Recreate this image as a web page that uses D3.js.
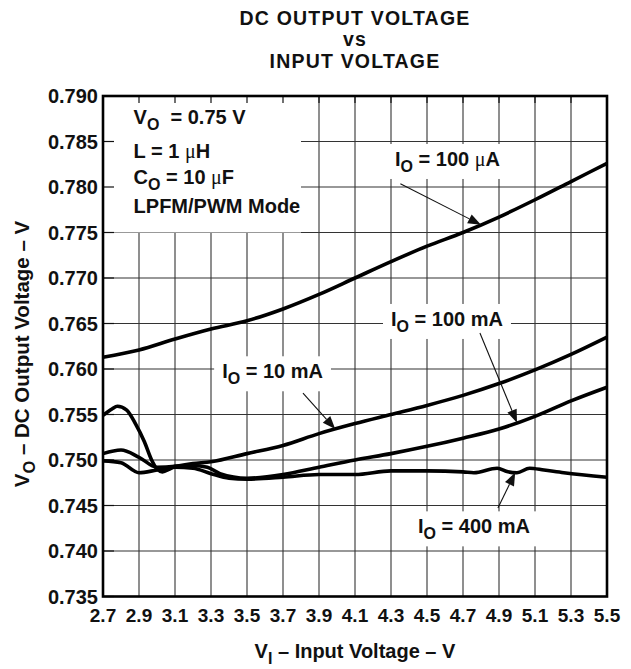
<!DOCTYPE html>
<html>
<head>
<meta charset="utf-8">
<script src="https://cdn.jsdelivr.net/npm/d3@7"></script>
<style>
  body { margin: 0; background: #fff; }
  svg text { font-family: "Liberation Sans", Arial, sans-serif; font-weight: bold; fill: #111; }
</style>
</head>
<body>
<svg id="chart" width="631" height="669"></svg>
<script>
// axis ticks
const xTicks = [2.7, 2.9, 3.1, 3.3, 3.5, 3.7, 3.9, 4.1, 4.3, 4.5, 4.7, 4.9, 5.1, 5.3, 5.5];
const yTicks = [0.735, 0.740, 0.745, 0.750, 0.755, 0.760, 0.765, 0.770, 0.775, 0.780, 0.785, 0.790];

// [V_I, V_O]
const io100uA = [[2.7, 0.7613], [2.9, 0.7621], [3.1, 0.7633], [3.3, 0.7644], [3.5, 0.7653],
  [3.7, 0.7666], [3.9, 0.7682], [4.1, 0.7700], [4.3, 0.7718], [4.5, 0.7735], [4.7, 0.7750],
  [4.9, 0.7767], [5.1, 0.7786], [5.3, 0.7806], [5.5, 0.7826]];
const io10mA = [[2.7, 0.7507], [2.8, 0.7511], [2.9, 0.7503], [3.0, 0.7492], [3.1, 0.7493],
  [3.2, 0.7496], [3.3, 0.7498], [3.5, 0.7507], [3.7, 0.7516], [3.9, 0.7529], [4.1, 0.7540],
  [4.3, 0.7550], [4.5, 0.7560], [4.7, 0.7571], [4.9, 0.7584], [5.1, 0.7599], [5.3, 0.7616], [5.5, 0.7635]];
const io100mA = [[2.7, 0.7549], [2.75, 0.7556], [2.78, 0.7559], [2.83, 0.7555], [2.88, 0.7540],
  [2.93, 0.7520], [2.97, 0.7500], [3.0, 0.7490], [3.03, 0.7487], [3.07, 0.7490], [3.1, 0.7493],
  [3.2, 0.7494], [3.28, 0.7492], [3.35, 0.7485], [3.5, 0.7480], [3.7, 0.7484], [3.9, 0.7492],
  [4.1, 0.7500], [4.3, 0.7507], [4.5, 0.7515], [4.7, 0.7524], [4.9, 0.7534], [5.1, 0.7548],
  [5.3, 0.7565], [5.5, 0.7580]];
const io400mA = [[2.7, 0.7499], [2.8, 0.7497], [2.9, 0.7486], [3.0, 0.7489], [3.1, 0.7492],
  [3.2, 0.7491], [3.3, 0.7485], [3.4, 0.7480], [3.5, 0.7479], [3.7, 0.7481], [3.9, 0.7484],
  [4.1, 0.7484], [4.3, 0.7488], [4.5, 0.7488], [4.7, 0.7487], [4.76, 0.7486], [4.89, 0.7491],
  [4.95, 0.7487], [5.0, 0.7486], [5.07, 0.7491], [5.15, 0.7489], [5.26, 0.7486], [5.5, 0.7481]];

const series = [io100uA, io10mA, io100mA, io400mA];

const svg = d3.select('#chart');
const x = d3.scaleLinear().domain([2.7, 5.5]).range([103, 607]);
const y = d3.scaleLinear().domain([0.735, 0.790]).range([596.5, 96]);
const [x0, x1] = x.range();
const [y1, y0] = y.range();

// rich text: parts are [text, kind] with kind 'sub' or 'mu'
function rich(sel, parts, size) {
  let lowered = false;
  for (const [t, kind] of parts) {
    const ts = sel.append('tspan').text(t);
    if (kind === 'sub') {
      ts.attr('font-size', size * 0.8).attr('dy', size * 0.3);
      lowered = true;
    } else {
      if (lowered) { ts.attr('dy', -size * 0.3); lowered = false; }
      if (kind === 'mu') ts.attr('font-family', '"Liberation Serif", serif').attr('font-weight', 'normal');
    }
  }
  return sel;
}

// grid
const gGrid = svg.append('g').attr('stroke', '#333').attr('stroke-width', 1.1);
gGrid.selectAll('line.v').data(xTicks.slice(1, -1)).join('line')
  .attr('x1', d => x(d)).attr('x2', d => x(d)).attr('y1', y0).attr('y2', y1);
gGrid.selectAll('line.h').data(yTicks.slice(1, -1)).join('line')
  .attr('x1', x0).attr('x2', x1).attr('y1', d => y(d)).attr('y2', d => y(d));

// white panel with the test conditions, grid hidden under it
svg.append('rect').attr('x', x(2.7)).attr('y', y(0.790))
  .attr('width', x(3.8) - x(2.7)).attr('height', y(0.775) - y(0.790)).attr('fill', '#fff');

// short inward ticks on the top and left frame
const gTicks = svg.append('g').attr('stroke', '#111').attr('stroke-width', 1.2);
gTicks.selectAll('line.t').data(xTicks).join('line')
  .attr('x1', d => x(d)).attr('x2', d => x(d)).attr('y1', y0).attr('y2', y0 + 7);
gTicks.selectAll('line.l').data(yTicks).join('line')
  .attr('x1', x0).attr('x2', x0 + 11).attr('y1', d => y(d)).attr('y2', d => y(d));

const conditions = [
  [['V'], ['O', 'sub'], ['\u00a0\u00a0= 0.75 V']],
  [['L = 1 '], ['μ', 'mu'], ['H']],
  [['C'], ['O', 'sub'], [' = 10 '], ['μ', 'mu'], ['F']],
  [['LPFM/PWM Mode']]
];
const condBase = [0.78689, 0.78315, 0.78030, 0.77711];
conditions.forEach((parts, i) => {
  rich(svg.append('text').attr('x', x(2.87)).attr('y', y(condBase[i])).attr('font-size', 20), parts, 20);
});

// labels for each curve
const notes = [
  { parts: [['I'], ['O', 'sub'], [' = 100 '], ['μ', 'mu'], ['A']], at: [4.614, 0.78231], from: [4.352, 0.78036], tipV: 4.80, s: io100uA },
  { parts: [['I'], ['O', 'sub'], [' = 10 mA']], at: [3.642, 0.75898], from: [3.811, 0.75736], tipV: 3.99, s: io10mA },
  { parts: [['I'], ['O', 'sub'], [' = 100 mA']], at: [4.611, 0.76473], from: [4.794, 0.76396], tipV: 5.0, s: io100mA },
  { parts: [['I'], ['O', 'sub'], [' = 400 mA']], at: [4.761, 0.74194], from: [4.894, 0.74473], tipV: 4.99, s: io400mA }
];
const gNotes = svg.append('g');
for (const n of notes) {
  const t = rich(gNotes.append('text').attr('x', x(n.at[0])).attr('y', y(n.at[1]))
    .attr('text-anchor', 'middle').attr('font-size', 20), n.parts, 20);
  const b = t.node().getBBox();
  gNotes.insert('rect', 'text').attr('x', b.x - 8).attr('y', b.y - 4)
    .attr('width', b.width + 16).attr('height', b.height + 8).attr('fill', '#fff');
}

// curves
const line = d3.line().x(d => x(d[0])).y(d => y(d[1])).curve(d3.curveMonotoneX);
svg.append('g').selectAll('path').data(series).join('path')
  .attr('d', line).attr('fill', 'none').attr('stroke', '#000')
  .attr('stroke-width', 3.6).attr('stroke-linejoin', 'round');

// frame
svg.append('rect').attr('x', x0).attr('y', y0).attr('width', x1 - x0).attr('height', y1 - y0)
  .attr('fill', 'none').attr('stroke', '#000').attr('stroke-width', 2.6);

// arrows from labels to curves
function valueAt(s, v) {
  const i = Math.max(1, d3.bisector(d => d[0]).left(s, v));
  const a = s[i - 1], b = s[i];
  return a[1] + (b[1] - a[1]) * (v - a[0]) / (b[0] - a[0]);
}
const gArrows = svg.append('g');
for (const n of notes) {
  const sx = x(n.from[0]), sy = y(n.from[1]);
  const tx = x(n.tipV), ty = y(valueAt(n.s, n.tipV));
  const ang = Math.atan2(ty - sy, tx - sx);
  const len = 13, half = 5;
  const bx = tx - len * Math.cos(ang), by = ty - len * Math.sin(ang);
  gArrows.append('line').attr('x1', sx).attr('y1', sy).attr('x2', bx).attr('y2', by)
    .attr('stroke', '#111').attr('stroke-width', 1.1);
  const px = -Math.sin(ang) * half, py = Math.cos(ang) * half;
  gArrows.append('path')
    .attr('d', `M${tx},${ty}L${bx + px},${by + py}L${bx - px},${by - py}Z`)
    .attr('fill', '#111');
}

// tick labels
svg.append('g').selectAll('text').data(yTicks).join('text')
  .attr('x', x0 - 5).attr('y', d => y(d)).attr('dy', '0.36em')
  .attr('text-anchor', 'end').attr('font-size', 20).text(d3.format('.3f'));
svg.append('g').selectAll('text').data(xTicks).join('text')
  .attr('x', d => x(d)).attr('y', 622)
  .attr('text-anchor', 'middle').attr('font-size', 19).text(d3.format('.1f'));

// titles
const cx = (x0 + x1) / 2;
['DC OUTPUT VOLTAGE', 'vs', 'INPUT VOLTAGE'].forEach((t, i) => {
  svg.append('text').attr('x', cx).attr('y', [24.5, 46.3, 68][i])
    .attr('text-anchor', 'middle').attr('font-size', 19.5).attr('letter-spacing', 1.2).text(t);
});
rich(svg.append('text').attr('x', cx).attr('y', 658).attr('text-anchor', 'middle').attr('font-size', 20),
  [['V'], ['I', 'sub'], [' – Input Voltage – V']], 20);
rich(svg.append('text').attr('transform', `translate(29,354) rotate(-90)`)
  .attr('text-anchor', 'middle').attr('font-size', 20.5),
  [['V'], ['O', 'sub'], [' – DC Output Voltage – V']], 20.5);
</script>
</body>
</html>
